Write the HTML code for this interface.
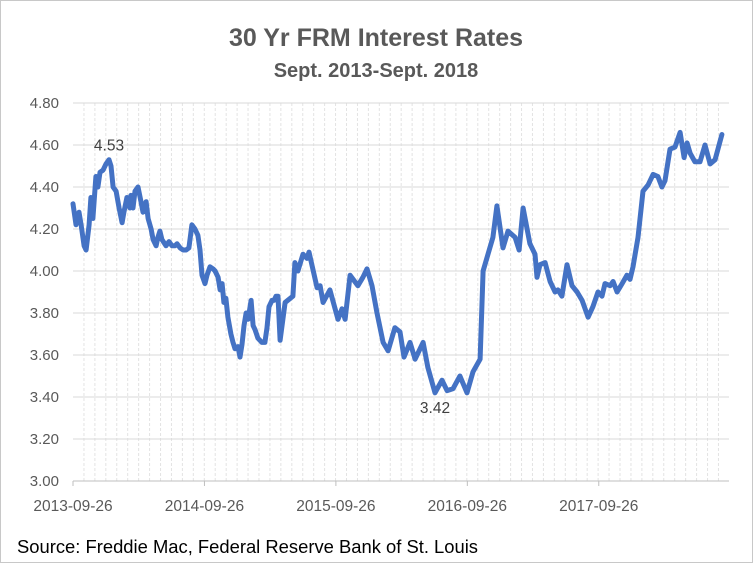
<!DOCTYPE html>
<html><head><meta charset="utf-8"><style>
body{margin:0;background:#fff;}
#wrap{width:753px;height:565px;position:relative;overflow:hidden;}
svg text{font-family:"Liberation Sans",sans-serif;}
</style></head><body>
<div id="wrap">
<svg id="chart" width="753" height="565">
<rect x="0.5" y="0.5" width="752" height="562" fill="#fff" stroke="#c8c8c8"/>
<text x="376" y="46" text-anchor="middle" font-size="25" font-weight="bold" fill="#595959">30 Yr FRM  Interest Rates</text>
<text x="376" y="77" text-anchor="middle" font-size="20" font-weight="bold" fill="#595959">Sept. 2013-Sept. 2018</text>
<g id="grid"></g><g id="axes"></g><g id="series"></g>
<text x="17" y="553" font-size="18.4" fill="#000">Source: Freddie Mac, Federal Reserve Bank of St. Louis</text>
</svg></div>
<script>
const weeks=[0,1.2,2.4,3.2,4.4,5.2,6.4,7.1,7.9,9.1,9.9,10.7,11.9,13.1,14.3,15.1,15.9,17.1,18.3,19.5,20.2,21.4,22.6,23,23.8,24.6,25.8,27,27.8,29,29.8,31,31.8,33,33.7,34.5,35.3,36.9,38.1,39.3,40.5,41.3,42.5,43.7,44.9,46,47.2,48.4,49.6,50.4,51.2,52.4,53.2,54.4,55.6,56.4,57.6,58.4,59.2,59.9,60.7,61.5,62.7,63.5,64.3,65.5,66.3,67.1,67.9,68.7,69.5,70.7,71.5,72.3,73.4,74.2,75,76.2,77,77.8,79,79.8,80.6,81.4,82.2,84.2,87.3,88.1,89.3,91.3,92.9,93.7,96.9,98.1,99.3,102,105.2,106.8,108,110,113.1,115.1,116.7,118.7,120.7,123.1,125.1,127.8,129.8,131.4,133.8,135.8,139,140.9,143.7,146.5,148.5,150.9,153.6,156.4,158.8,161.6,162.8,166.7,168.3,170.7,172.7,175.5,177.1,178.7,181.4,183.4,184.2,185.4,187.4,189.4,191.4,192.5,194.1,196.1,198.1,200.1,202.1,204.5,206.4,208.4,210,211.2,213.2,214.4,216,218,219.9,221.1,222.3,224.3,226.3,228.3,230.3,232.2,233.8,235,237,239,241,242.6,243.8,245,246.9,248.9,250.9,252.9,254.9,257.6];
const rates=[4.32,4.22,4.28,4.22,4.12,4.10,4.22,4.35,4.25,4.45,4.40,4.47,4.48,4.51,4.53,4.50,4.40,4.38,4.30,4.23,4.28,4.35,4.30,4.36,4.30,4.38,4.40,4.33,4.28,4.33,4.25,4.20,4.15,4.12,4.16,4.19,4.15,4.12,4.14,4.12,4.12,4.13,4.11,4.10,4.10,4.11,4.22,4.20,4.17,4.10,3.98,3.94,3.98,4.02,4.01,4.00,3.97,3.91,3.94,3.85,3.87,3.78,3.70,3.66,3.63,3.64,3.59,3.65,3.74,3.80,3.77,3.86,3.74,3.72,3.68,3.67,3.66,3.66,3.73,3.83,3.86,3.86,3.88,3.88,3.67,3.85,3.88,4.04,4.00,4.08,4.06,4.09,3.92,3.93,3.85,3.91,3.77,3.82,3.77,3.98,3.93,3.97,4.01,3.93,3.80,3.66,3.62,3.73,3.71,3.59,3.66,3.58,3.66,3.54,3.42,3.48,3.43,3.44,3.50,3.42,3.52,3.58,4.00,4.16,4.31,4.11,4.19,4.16,4.10,4.30,4.13,4.08,3.97,4.03,4.04,3.95,3.90,3.91,3.88,4.03,3.93,3.90,3.86,3.78,3.83,3.90,3.88,3.94,3.93,3.95,3.90,3.94,3.98,3.96,4.02,4.16,4.38,4.41,4.46,4.45,4.40,4.43,4.58,4.59,4.66,4.54,4.61,4.56,4.52,4.52,4.60,4.51,4.53,4.65];
const yTicks=["3.00","3.20","3.40","3.60","3.80","4.00","4.20","4.40","4.60","4.80"];
const xTickLabels=["2013-09-26","2014-09-26","2015-09-26","2016-09-26","2017-09-26"];
const xTickWeeks=[0,52.18,104.36,156.54,208.72];
const annotLabels=["4.53","3.42","4.65"];
const annotIdx=[14,114,175];

const NS="http://www.w3.org/2000/svg";
const X0=73,PXW=2.519,Y0=481,PXV=210;
const xs=w=>X0+w*PXW, ys=v=>Y0-(v-3)*PXV;
function mk(tag,attrs,parent){const e=document.createElementNS(NS,tag);for(const k in attrs)e.setAttribute(k,attrs[k]);parent.appendChild(e);return e;}
const grid=document.getElementById('grid'),axes=document.getElementById('axes'),series=document.getElementById('series');
for(let i=1;i<60;i++){const x=X0+i*10.94;if(x>729)break;
 const l=mk('line',{x1:x,x2:x,y1:103,y2:481,stroke:'#e3e3e3','stroke-dasharray':'3,2'},grid);
 
 }
yTicks.forEach(t=>{const y=ys(parseFloat(t));
 if(y<480){const l=mk('line',{x1:X0,x2:729,y1:y,y2:y,stroke:'#d9d9d9'},grid);
 
 }
 const tx=mk('text',{x:59,y:y+5,'text-anchor':'end','font-size':15,fill:'#595959'},axes);tx.textContent=t;
 
 });
const ax=mk('line',{x1:X0,x2:729,y1:Y0,y2:Y0,stroke:'#bfbfbf'},axes);


xTickLabels.forEach((t,i)=>{const x=xs(xTickWeeks[i]);
 const tk=mk('line',{x1:x,x2:x,y1:Y0,y2:Y0+5,stroke:'#bfbfbf'},axes);
 
 
 const tx=mk('text',{x:x,y:511,'text-anchor':'middle','font-size':15.5,fill:'#595959'},axes);tx.textContent=t;
 
 });
const d=weeks.map((w,i)=>(i?'L':'M')+xs(w).toFixed(1)+','+ys(rates[i]).toFixed(1)).join(' ');
const p=mk('path',{d:d,fill:'none',stroke:'#4472c4','stroke-width':5,'stroke-linejoin':'round','stroke-linecap':'round'},series);


annotIdx.forEach((idx,i)=>{const x=xs(weeks[idx]),y=ys(rates[idx]);const below=rates[idx]<3.6;
 const tx=mk('text',{x:x+(i==2?2:0),y:below?y+20:y-9,'text-anchor':'middle','font-size':15.5,fill:'#404040'},series);tx.textContent=annotLabels[i];
 
 });
</script>
</body></html>
